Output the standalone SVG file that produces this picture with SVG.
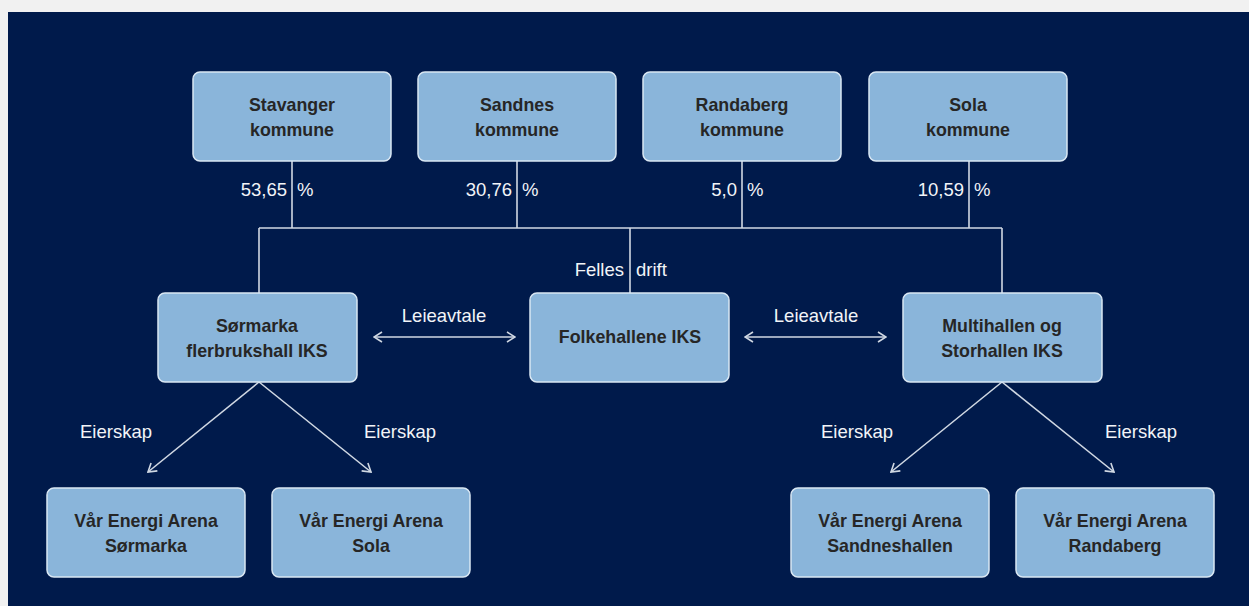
<svg xmlns="http://www.w3.org/2000/svg" width="1249" height="606" viewBox="0 0 1249 606">
<defs>
<style>
.box{fill:#8ab5da;stroke:#d9e7f3;stroke-width:1.5}
.bt{font-family:"Liberation Sans",Arial,sans-serif;font-weight:bold;font-size:17.8px;fill:#262626;text-anchor:middle}
.lb{font-family:"Liberation Sans",Arial,sans-serif;font-size:18.5px;fill:#f2f4f8}
.ln{stroke:#d0d8e3;stroke-width:1.6;fill:none}
</style>
<marker id="ah" viewBox="0 0 12 12" refX="11" refY="6" markerWidth="12" markerHeight="12" markerUnits="userSpaceOnUse" orient="auto-start-reverse">
<path d="M3,1 L11,6 L3,11" fill="none" stroke="#d0d8e3" stroke-width="1.6"/>
</marker>
</defs>
<rect x="0" y="0" width="1249" height="606" fill="#f1f1f1"/>
<rect x="8" y="12" width="1241" height="594" fill="#001a4b"/>
<g id="connectors">
<path class="ln" d="M292,161 V228 M517,161 V228 M742,161 V228 M969,161 V228 M259,228 H1002 M259,228 V293 M630,228 V293 M1002,228 V293"/>
<line class="ln" x1="374" y1="337" x2="515" y2="337" marker-start="url(#ah)" marker-end="url(#ah)"/>
<line class="ln" x1="745" y1="337" x2="886" y2="337" marker-start="url(#ah)" marker-end="url(#ah)"/>
<line class="ln" x1="259" y1="382" x2="148" y2="472" marker-end="url(#ah)"/>
<line class="ln" x1="259" y1="382" x2="371" y2="472" marker-end="url(#ah)"/>
<line class="ln" x1="1002" y1="382" x2="891" y2="472" marker-end="url(#ah)"/>
<line class="ln" x1="1002" y1="382" x2="1114" y2="472" marker-end="url(#ah)"/>
<text class="lb" x="287" y="196" text-anchor="end">53,65</text><text class="lb" x="297" y="196">%</text>
<text class="lb" x="512" y="196" text-anchor="end">30,76</text><text class="lb" x="522" y="196">%</text>
<text class="lb" x="737" y="196" text-anchor="end">5,0</text><text class="lb" x="747" y="196">%</text>
<text class="lb" x="964" y="196" text-anchor="end">10,59</text><text class="lb" x="974" y="196">%</text>
<text class="lb" x="624" y="276" text-anchor="end">Felles</text><text class="lb" x="636" y="276">drift</text>
<text class="lb" x="444" y="322" text-anchor="middle">Leieavtale</text>
<text class="lb" x="816" y="322" text-anchor="middle">Leieavtale</text>
<text class="lb" x="116" y="438" text-anchor="middle">Eierskap</text>
<text class="lb" x="400" y="438" text-anchor="middle">Eierskap</text>
<text class="lb" x="857" y="438" text-anchor="middle">Eierskap</text>
<text class="lb" x="1141" y="438" text-anchor="middle">Eierskap</text>
</g>
<g id="stavanger"><rect class="box" x="193" y="72" width="198" height="89" rx="7"/><text class="bt" x="292" y="111">Stavanger</text><text class="bt" x="292" y="136">kommune</text></g>
<g id="sandnes"><rect class="box" x="418" y="72" width="198" height="89" rx="7"/><text class="bt" x="517" y="111">Sandnes</text><text class="bt" x="517" y="136">kommune</text></g>
<g id="randaberg"><rect class="box" x="643" y="72" width="198" height="89" rx="7"/><text class="bt" x="742" y="111">Randaberg</text><text class="bt" x="742" y="136">kommune</text></g>
<g id="sola"><rect class="box" x="869" y="72" width="198" height="89" rx="7"/><text class="bt" x="968" y="111">Sola</text><text class="bt" x="968" y="136">kommune</text></g>
<g id="sormarka-iks"><rect class="box" x="158" y="293" width="199" height="89" rx="7"/><text class="bt" x="257" y="332">Sørmarka</text><text class="bt" x="257" y="357">flerbrukshall IKS</text></g>
<g id="folkehallene"><rect class="box" x="530" y="293" width="199" height="89" rx="7"/><text class="bt" x="630" y="343">Folkehallene IKS</text></g>
<g id="multihallen"><rect class="box" x="903" y="293" width="199" height="89" rx="7"/><text class="bt" x="1002" y="332">Multihallen og</text><text class="bt" x="1002" y="357">Storhallen IKS</text></g>
<g id="vea-sormarka"><rect class="box" x="47" y="488" width="198" height="89" rx="7"/><text class="bt" x="146" y="527">Vår Energi Arena</text><text class="bt" x="146" y="552">Sørmarka</text></g>
<g id="vea-sola"><rect class="box" x="272" y="488" width="198" height="89" rx="7"/><text class="bt" x="371" y="527">Vår Energi Arena</text><text class="bt" x="371" y="552">Sola</text></g>
<g id="vea-sandneshallen"><rect class="box" x="791" y="488" width="198" height="89" rx="7"/><text class="bt" x="890" y="527">Vår Energi Arena</text><text class="bt" x="890" y="552">Sandneshallen</text></g>
<g id="vea-randaberg"><rect class="box" x="1016" y="488" width="198" height="89" rx="7"/><text class="bt" x="1115" y="527">Vår Energi Arena</text><text class="bt" x="1115" y="552">Randaberg</text></g>
</svg>
